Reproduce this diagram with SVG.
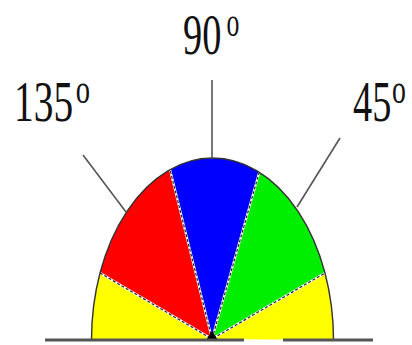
<svg xmlns="http://www.w3.org/2000/svg" width="412" height="345" viewBox="0 0 412 345">
  <style>
    .lbl { font-family: "Liberation Serif", "Times New Roman", serif; fill: #111; font-size: 58px; }
    .deg { font-size: 42px; }
    .deg90 { font-size: 39px; }
    .ray { stroke: #555; stroke-width: 1.6; fill: none; }
    .sep { stroke: #fff; stroke-width: 2.2; fill: none; }
    .sepd { stroke: #222; stroke-width: 1.2; stroke-dasharray: 3 2; fill: none; }
  </style>
  <rect width="412" height="345" fill="#fff"/>
  <g id="dome">
    <path id="yellow-left" d="M 91.5 340 A 121 182 0 0 1 100 273 L 212 339 Z" fill="#ffff00"/>
    <path id="red" d="M 212 339 L 100 273 A 121 182 0 0 1 170 169.6 Z" fill="#ff0000"/>
    <path id="blue" d="M 212 339 L 170 169.6 A 121 182 0 0 1 259.3 172 Z" fill="#0000ff"/>
    <path id="green" d="M 212 339 L 259.3 172 A 121 182 0 0 1 325 273 Z" fill="#00ee00"/>
    <path id="yellow-right" d="M 212 339 L 325 273 A 121 182 0 0 1 333.5 340 Z" fill="#ffff00"/>
    <g id="separators">
      <path class="sep" d="M 100 273 L 212 339 L 170 169.6 M 259.3 172 L 212 339 L 325 273"/>
      <path class="sepd" d="M 100 273 L 212 339 L 170 169.6 M 259.3 172 L 212 339 L 325 273"/>
    </g>
    <path id="outline" d="M 91.5 340 A 121 182 0 0 1 333.5 340" fill="none" stroke="#333" stroke-width="1.4"/>
    <polygon id="apex" points="206,340 212,331 218,340" fill="#000"/>
  </g>
  <g id="connectors">
    <line class="ray" x1="212" y1="80" x2="212" y2="159"/>
    <line class="ray" x1="83" y1="155" x2="126" y2="212"/>
    <line class="ray" x1="340" y1="138" x2="297" y2="207"/>
    <line x1="45" y1="340" x2="244" y2="340" stroke="#555" stroke-width="3"/>
    <line x1="283" y1="340" x2="373" y2="340" stroke="#555" stroke-width="3"/>
  </g>
  <g id="label-90">
    <text class="lbl" transform="translate(183,54) scale(0.66,1)">90<tspan class="deg90" dx="8" dy="-18">o</tspan></text>
  </g>
  <g id="label-135">
    <text class="lbl" transform="translate(14,121) scale(0.68,1)">135<tspan class="deg" dx="4" dy="-18">o</tspan></text>
  </g>
  <g id="label-45">
    <text class="lbl" transform="translate(353,121) scale(0.66,1)">45<tspan class="deg" dx="1" dy="-18">o</tspan></text>
  </g>
</svg>
